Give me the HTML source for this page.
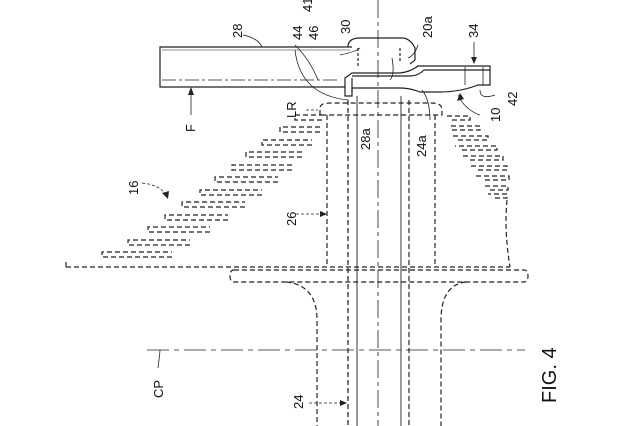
<!DOCTYPE html>
<html><head><meta charset="utf-8"><style>
html,body{margin:0;padding:0;background:#fff;}
svg{display:block;}
text{font-family:"Liberation Sans",sans-serif;fill:#111;font-size:13px;}
</style></head><body>
<svg width="640" height="426" viewBox="0 0 640 426" xmlns="http://www.w3.org/2000/svg">
<g stroke="#222" fill="none" stroke-width="1.2">
<path d="M352 47 H160 V87 H345"/>
<path d="M162 50 H350" stroke-width="0.6"/>
<path d="M162 80 H340" stroke-dasharray="14 3 3 3" stroke-width="0.7"/>
<path d="M348 47 Q348 38 360 38 H402 Q410 38 415 48 V60 L410 64"/>
<path d="M358 48 V68 M400 48 V63" stroke-dasharray="3 2"/>
<path d="M345 78 L352 73 H400 Q410 72 418 66 H490 V85 H478 Q460 92 440 92 H420 Q410 88 400 88 H352 V96 H345 Z"/>
<path d="M352 76 H410 Q418 76 424 70 H490"/>
<path d="M352 92 V78"/>
<path d="M465 67 V85 M483 67 V85" stroke-width="0.8"/>
<path d="M378 0 V426" stroke-dasharray="18 4 4 4" stroke-width="0.8"/>
<path d="M357 96 V426 M401 96 V426" stroke-width="0.9"/>
<path d="M348 100 V426 M409 100 V426" stroke-dasharray="5 3"/>
<path d="M320 115 V108 Q320 103 330 103 H432 Q442 103 442 110 V115 H320" stroke-dasharray="5 3"/>
<path d="M327 115 V267 M435 115 V267" stroke-dasharray="5 3"/>
<path d="M66 267 H510 M66 262 V267" stroke-dasharray="5 3"/>
<g stroke-dasharray="5 3">
<path d="M172 257 H102 V252 H172"/>
<path d="M190 245 H128 V240 H190"/>
<path d="M210 232 H148 V227 H210"/>
<path d="M228 220 H165 V215 H228"/>
<path d="M245 207 H182 V202 H245"/>
<path d="M262 195 H200 V190 H262"/>
<path d="M278 182 H215 V177 H278"/>
<path d="M292 170 H232 V165 H292"/>
<path d="M302 157 H246 V152 H302"/>
<path d="M312 145 H262 V140 H312"/>
<path d="M320 132 H280 V127 H320"/>
<path d="M322 120 H295 V115 H322"/>
<path d="M452 120 H470 V116 H445"/>
<path d="M452 130 H480 V126 H448"/>
<path d="M458 140 H488 V136 H452"/>
<path d="M462 150 H497 V146 H455"/>
<path d="M470 160 H503 V156 H460"/>
<path d="M478 170 H507 V166 H468"/>
<path d="M485 180 H509 V176 H476"/>
<path d="M490 190 H508 V186 H482"/>
<path d="M495 198 H507 V194 H488"/>
<path d="M507 200 Q504 230 510 267"/>
<path d="M234 270 H524 Q528 270 528 276 Q528 282 524 282 H234 Q230 282 230 276 Q230 270 234 270 Z"/>
<path d="M286 282 Q317 285 317 320 V426 M466 282 Q441 285 441 320 V426"/>
</g>
<path d="M147 350 H525" stroke-dasharray="22 5 5 5" stroke-width="0.8"/>
<path d="M158 368 Q160 352 160 350" stroke-width="0.8"/>
<path d="M243 35 Q258 38 262 47 M318 80 Q310 60 295 45 M348 100 Q300 95 295 50 M390 80 Q395 75 392 58 M422 90 Q430 100 430 120 M408 58 Q415 55 418 45 M340 55 Q355 52 360 48" stroke-width="0.8"/>
<path d="M480 90 Q480 100 495 95 M458 95 Q465 110 480 115" stroke-width="0.8"/>
<path d="M191 115 V90 M474 42 V60" stroke-width="0.8"/>
<path d="M306 110 H318 M142 183 Q160 185 166 195 M296 214 H325 M309 403 H345" stroke-dasharray="3 2" stroke-width="0.8"/>
</g>
<g fill="#222">
<path d="M191 87 L188 95 H194 Z M474 64 L471 57 H477 Z M168 199 L162 193 L169 191 Z M327 214 L320 211 V217 Z M347 403 L340 400 V406 Z M460 93 L457 101 L464 99 Z"/>
</g>
<g>
<text transform="translate(242,38) rotate(-90)">28</text>
<text transform="translate(195,132) rotate(-90)">F</text>
<text transform="translate(302,40) rotate(-90)">44</text>
<text transform="translate(318,40) rotate(-90)">46</text>
<text transform="translate(312,12) rotate(-90)">41</text>
<text transform="translate(350,34) rotate(-90)">30</text>
<text transform="translate(432,38) rotate(-90)">20a</text>
<text transform="translate(478,38) rotate(-90)">34</text>
<text transform="translate(296,118) rotate(-90)">LR</text>
<text transform="translate(370,150) rotate(-90)">28a</text>
<text transform="translate(426,157) rotate(-90)">24a</text>
<text transform="translate(500,122) rotate(-90)">10</text>
<text transform="translate(517,106) rotate(-90)">42</text>
<text transform="translate(138,195) rotate(-90)">16</text>
<text transform="translate(296,226) rotate(-90)">26</text>
<text transform="translate(163,398) rotate(-90)">CP</text>
<text transform="translate(303,409) rotate(-90)">24</text>
<text transform="translate(556,403) rotate(-90)" style="font-size:20px">FIG. 4</text>
</g>
</svg>
</body></html>
